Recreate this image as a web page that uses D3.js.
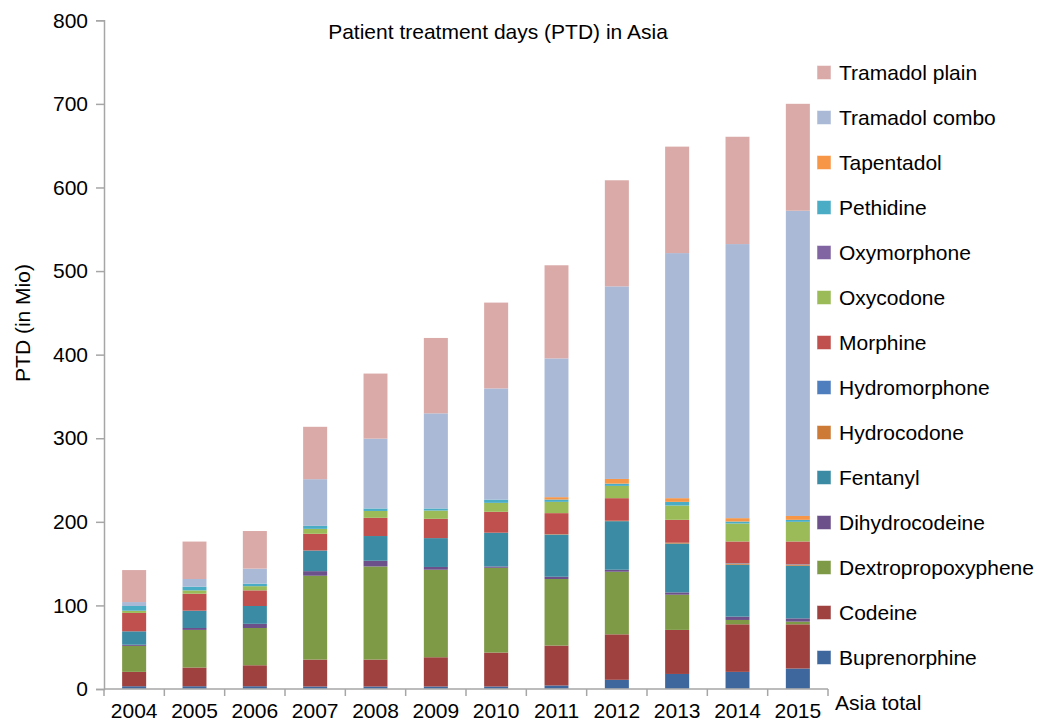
<!DOCTYPE html>
<html>
<head>
<meta charset="utf-8">
<script src="https://cdn.jsdelivr.net/npm/d3@7"></script>
<style>
  html, body { margin: 0; padding: 0; background: #fff; }
  svg { display: block; font-family: "Liberation Sans", Arial, sans-serif; }
</style>
</head>
<body>
<svg id="chart" width="1037" height="726"></svg>
<script>
const years = ["2004","2005","2006","2007","2008","2009","2010","2011","2012","2013","2014","2015"];
const yTicks = [0,100,200,300,400,500,600,700,800];

const buprenorphine      = [3.3, 3.3, 3.3, 3, 3, 3, 3, 4.2, 11, 18, 20.5, 24.5];
const codeine            = [17.2, 22.4, 25.1, 32.2, 32.2, 35, 40.6, 47.8, 54.4, 52.7, 56.9, 52.9];
const dextropropoxyphene = [31.1, 45, 44.6, 100.3, 111.4, 104.7, 101.4, 79.6, 74.9, 42.1, 5.2, 3.2];
const dihydrocodeine     = [1.4, 2.3, 5, 5.5, 6.8, 3.3, 1.6, 2.7, 2.4, 2.8, 4, 3.9];
const fentanyl           = [16, 20.7, 21.3, 24.7, 29.6, 34.5, 40.4, 50.5, 58.1, 58.4, 62.1, 63];
const hydrocodone        = [0, 0, 0, 0, 0, 0, 0, 0.5, 0.5, 1, 1.3, 1.2];
const hydromorphone      = [0, 0, 0, 0, 0, 0, 0, 0, 0, 0, 0.5, 0.5];
const morphine           = [22, 20.3, 18.7, 20, 21.8, 23.1, 25, 25.1, 27, 27.4, 26, 27.3];
const oxycodone          = [2.7, 4, 5, 5.9, 8.2, 9.9, 10.7, 13.5, 14.7, 17.1, 21.5, 23.5];
const oxymorphone        = [0, 0, 0, 0, 0, 0, 0, 0, 0, 0, 0, 0];
const pethidine          = [5.6, 4.4, 3, 3.6, 3, 2.5, 3.9, 2.8, 2.7, 4.4, 2.4, 2.4];
const tapentadol         = [0, 0, 0, 0, 0, 0, 0, 2.8, 5.6, 4.4, 4, 4.6];
const tramadolCombo      = [4.7, 9.2, 18, 55.8, 83.5, 113.8, 133, 166, 230.4, 293.2, 327.9, 365.2];
const tramadolPlain      = [38.3, 44.9, 45, 62.8, 78, 90.2, 102.8, 111.5, 127, 127.5, 128.5, 128];

const seriesNames = ["Buprenorphine","Codeine","Dextropropoxyphene","Dihydrocodeine","Fentanyl",
  "Hydrocodone","Hydromorphone","Morphine","Oxycodone","Oxymorphone","Pethidine","Tapentadol",
  "Tramadol combo","Tramadol plain"];
const seriesValues = [buprenorphine, codeine, dextropropoxyphene, dihydrocodeine, fentanyl,
  hydrocodone, hydromorphone, morphine, oxycodone, oxymorphone, pethidine, tapentadol,
  tramadolCombo, tramadolPlain];
const seriesColors = ["#3E679E","#9E413F","#7E9A46","#6B5089","#3A8BA3",
  "#CC7A35","#4F7EBE","#C0504D","#9BBB59","#8065A2","#4BACC6","#F79646",
  "#AAB9D6","#DAAAA8"];

const rows = years.map((y, i) => {
  const r = { year: y };
  seriesNames.forEach((n, k) => r[n] = seriesValues[k][i]);
  return r;
});

const svg = d3.select("#chart");
const x = d3.scaleBand().domain(years).range([104, 828]).paddingInner(0.6).paddingOuter(0.3);
const y = d3.scaleLinear().domain([0, 800]).range([689, 20.3]);
const color = d3.scaleOrdinal().domain(seriesNames).range(seriesColors);

const stack = d3.stack().keys(seriesNames);
const stacked = stack(rows);

// bars
svg.append("g").selectAll("g").data(stacked).join("g")
  .attr("fill", d => color(d.key))
  .selectAll("rect").data(d => d).join("rect")
  .attr("x", d => x(d.data.year))
  .attr("width", x.bandwidth())
  .attr("y", d => y(d[1]))
  .attr("height", d => Math.max(0, y(d[0]) - y(d[1])));

// light edges on whole bars
svg.append("g").selectAll("rect").data(rows).join("rect")
  .attr("x", d => x(d.year) - 0.5)
  .attr("width", x.bandwidth() + 1)
  .attr("y", d => y(d3.sum(seriesNames, n => d[n])) - 0.5)
  .attr("height", d => y(0) - y(d3.sum(seriesNames, n => d[n])) + 0.5)
  .attr("fill", "none")
  .attr("stroke", "#ffffff")
  .attr("stroke-opacity", 0.45)
  .attr("stroke-width", 1);

const axisColor = "#A6A6A6";

// y axis
const yAxis = svg.append("g").attr("transform", "translate(104,0)")
  .call(d3.axisLeft(y).tickValues(yTicks).tickSize(8).tickPadding(8).tickFormat(d3.format("d")));
yAxis.select(".domain").attr("stroke", axisColor).attr("stroke-width", 1.5);
yAxis.selectAll(".tick line").attr("stroke", axisColor).attr("stroke-width", 1.5);
yAxis.selectAll(".tick text").attr("font-size", 21).attr("fill", "#000")
  .attr("font-family", "'Liberation Sans', Arial, sans-serif");

// x axis
const xAxisG = svg.append("g").attr("transform", `translate(0,${y(0)})`)
  .call(d3.axisBottom(x).tickSize(0).tickPadding(14));
xAxisG.select(".domain").remove();
xAxisG.append("line").attr("x1", 104).attr("x2", 828).attr("y1", 0).attr("y2", 0)
  .attr("stroke", axisColor).attr("stroke-width", 1.5);
const boundaries = years.map(yr => x(yr) - x.step() * x.paddingOuter()).concat([828]);
xAxisG.selectAll(".bnd").data(boundaries).join("line").attr("class", "bnd")
  .attr("x1", d => d).attr("x2", d => d).attr("y1", 0).attr("y2", 7)
  .attr("stroke", axisColor).attr("stroke-width", 1.5);
xAxisG.selectAll(".tick text").attr("font-size", 21).attr("fill", "#000")
  .attr("font-family", "'Liberation Sans', Arial, sans-serif");

// Category axis title
svg.append("text").attr("x", 835).attr("y", 710).attr("font-size", 21).text("Asia total");

// Title
svg.append("text").attr("x", 498).attr("y", 39).attr("text-anchor", "middle")
  .attr("font-size", 21).text("Patient treatment days (PTD) in Asia");

// Y label
svg.append("text").attr("transform", "translate(30,323) rotate(-90)")
  .attr("text-anchor", "middle").attr("font-size", 21).text("PTD (in Mio)");

// Legend
const legendNames = seriesNames.slice().reverse();
const lg = svg.append("g").selectAll("g").data(legendNames).join("g")
  .attr("transform", (d, i) => `translate(817,${65.5 + i * 45})`);
lg.append("rect").attr("width", 14).attr("height", 14)
  .attr("fill", d => color(d)).attr("stroke", "#fff").attr("stroke-opacity", 0.5);
lg.append("text").attr("x", 22).attr("y", 14.5).attr("font-size", 21).text(d => d);
</script>
</body>
</html>
